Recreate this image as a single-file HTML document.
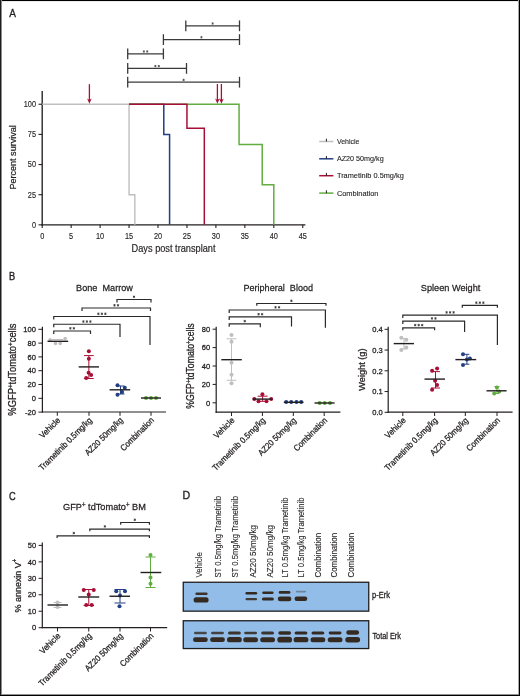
<!DOCTYPE html>
<html><head><meta charset="utf-8"><style>
html,body{margin:0;padding:0;background:#fff;}
body{width:520px;height:696px;overflow:hidden;position:relative;}
svg{position:absolute;left:0;top:0;filter:saturate(1.0001);}
text{font-family:"Liberation Sans",sans-serif;}
</style></head><body>
<svg width="520" height="696" viewBox="0 0 520 696">
<defs><filter id="bl" x="-20%" y="-60%" width="140%" height="220%"><feGaussianBlur stdDeviation="0.55"/></filter></defs>
<text x="0" y="0" font-size="11.2" fill="#231f20" stroke="#231f20" stroke-width="0.3" transform="translate(9.20,17.10) scale(0.8969,1)">A</text>
<line x1="42.20" y1="90.90" x2="42.20" y2="225.50" stroke="#231f20" stroke-width="1.35"/>
<line x1="41.60" y1="224.85" x2="305.40" y2="224.85" stroke="#231f20" stroke-width="1.3"/>
<line x1="38.50" y1="224.85" x2="42.20" y2="224.85" stroke="#231f20" stroke-width="1.1"/>
<text x="0" y="0" font-size="9.2" fill="#231f20" stroke="#231f20" stroke-width="0.15" text-anchor="end" transform="translate(36.00,227.70) scale(0.8000,1)">0</text>
<line x1="38.50" y1="194.70" x2="42.20" y2="194.70" stroke="#231f20" stroke-width="1.1"/>
<text x="0" y="0" font-size="9.2" fill="#231f20" stroke="#231f20" stroke-width="0.15" text-anchor="end" transform="translate(36.00,197.55) scale(0.8000,1)">25</text>
<line x1="38.50" y1="164.55" x2="42.20" y2="164.55" stroke="#231f20" stroke-width="1.1"/>
<text x="0" y="0" font-size="9.2" fill="#231f20" stroke="#231f20" stroke-width="0.15" text-anchor="end" transform="translate(36.00,167.40) scale(0.8000,1)">50</text>
<line x1="38.50" y1="134.40" x2="42.20" y2="134.40" stroke="#231f20" stroke-width="1.1"/>
<text x="0" y="0" font-size="9.2" fill="#231f20" stroke="#231f20" stroke-width="0.15" text-anchor="end" transform="translate(36.00,137.25) scale(0.8000,1)">75</text>
<line x1="38.50" y1="104.25" x2="42.20" y2="104.25" stroke="#231f20" stroke-width="1.1"/>
<text x="0" y="0" font-size="9.2" fill="#231f20" stroke="#231f20" stroke-width="0.15" text-anchor="end" transform="translate(36.00,107.10) scale(0.8000,1)">100</text>
<line x1="42.20" y1="224.85" x2="42.20" y2="227.90" stroke="#231f20" stroke-width="1.1"/>
<text x="0" y="0" font-size="9.2" fill="#231f20" stroke="#231f20" stroke-width="0.15" text-anchor="middle" transform="translate(42.20,238.70) scale(0.8000,1)">0</text>
<line x1="71.15" y1="224.85" x2="71.15" y2="227.90" stroke="#231f20" stroke-width="1.1"/>
<text x="0" y="0" font-size="9.2" fill="#231f20" stroke="#231f20" stroke-width="0.15" text-anchor="middle" transform="translate(71.15,238.70) scale(0.8000,1)">5</text>
<line x1="100.10" y1="224.85" x2="100.10" y2="227.90" stroke="#231f20" stroke-width="1.1"/>
<text x="0" y="0" font-size="9.2" fill="#231f20" stroke="#231f20" stroke-width="0.15" text-anchor="middle" transform="translate(100.10,238.70) scale(0.8000,1)">10</text>
<line x1="129.05" y1="224.85" x2="129.05" y2="227.90" stroke="#231f20" stroke-width="1.1"/>
<text x="0" y="0" font-size="9.2" fill="#231f20" stroke="#231f20" stroke-width="0.15" text-anchor="middle" transform="translate(129.05,238.70) scale(0.8000,1)">15</text>
<line x1="158.00" y1="224.85" x2="158.00" y2="227.90" stroke="#231f20" stroke-width="1.1"/>
<text x="0" y="0" font-size="9.2" fill="#231f20" stroke="#231f20" stroke-width="0.15" text-anchor="middle" transform="translate(158.00,238.70) scale(0.8000,1)">20</text>
<line x1="186.95" y1="224.85" x2="186.95" y2="227.90" stroke="#231f20" stroke-width="1.1"/>
<text x="0" y="0" font-size="9.2" fill="#231f20" stroke="#231f20" stroke-width="0.15" text-anchor="middle" transform="translate(186.95,238.70) scale(0.8000,1)">25</text>
<line x1="215.90" y1="224.85" x2="215.90" y2="227.90" stroke="#231f20" stroke-width="1.1"/>
<text x="0" y="0" font-size="9.2" fill="#231f20" stroke="#231f20" stroke-width="0.15" text-anchor="middle" transform="translate(215.90,238.70) scale(0.8000,1)">30</text>
<line x1="244.85" y1="224.85" x2="244.85" y2="227.90" stroke="#231f20" stroke-width="1.1"/>
<text x="0" y="0" font-size="9.2" fill="#231f20" stroke="#231f20" stroke-width="0.15" text-anchor="middle" transform="translate(244.85,238.70) scale(0.8000,1)">35</text>
<line x1="273.80" y1="224.85" x2="273.80" y2="227.90" stroke="#231f20" stroke-width="1.1"/>
<text x="0" y="0" font-size="9.2" fill="#231f20" stroke="#231f20" stroke-width="0.15" text-anchor="middle" transform="translate(273.80,238.70) scale(0.8000,1)">40</text>
<line x1="302.75" y1="224.85" x2="302.75" y2="227.90" stroke="#231f20" stroke-width="1.1"/>
<text x="0" y="0" font-size="9.2" fill="#231f20" stroke="#231f20" stroke-width="0.15" text-anchor="middle" transform="translate(302.75,238.70) scale(0.8000,1)">45</text>
<text x="0" y="0" font-size="10.1" fill="#231f20" stroke="#231f20" stroke-width="0.18" transform="translate(131.60,252.10) scale(0.9124,1)">Days post transplant</text>
<text x="0" y="0" font-size="9.3" fill="#231f20" stroke="#231f20" stroke-width="0.22" text-anchor="middle" transform="translate(15.50,157.40) rotate(-90) scale(0.9719,1)">Percent survival</text>
<path d="M42.2,104.25 H129.05 V194.70 H134.84 V224.85" stroke="#bfbfc2" stroke-width="1.4" fill="none" />
<path d="M129.05,104.25 H163.79 V134.40 H169.58 V224.85" stroke="#213f82" stroke-width="1.5" fill="none" />
<path d="M129.05,104.25 H239.06 V144.45 H262.22 V184.65 H273.80 V224.85" stroke="#62ad40" stroke-width="1.5" fill="none" />
<path d="M129.05,104.25 H186.95 V128.37 H204.32 V224.85" stroke="#a80f36" stroke-width="1.5" fill="none" />
<line x1="185.80" y1="25.80" x2="239.50" y2="25.80" stroke="#3a3a3a" stroke-width="1.3"/>
<line x1="185.80" y1="20.40" x2="185.80" y2="31.20" stroke="#3a3a3a" stroke-width="1.3"/>
<line x1="239.50" y1="20.40" x2="239.50" y2="31.20" stroke="#3a3a3a" stroke-width="1.3"/>
<path d="M212.65,22.35V24.65M211.65,22.93L213.65,24.07M211.65,24.07L213.65,22.93" stroke="#444" stroke-width="0.75" fill="none"/>
<line x1="163.40" y1="39.60" x2="239.50" y2="39.60" stroke="#3a3a3a" stroke-width="1.3"/>
<line x1="163.40" y1="34.20" x2="163.40" y2="45.00" stroke="#3a3a3a" stroke-width="1.3"/>
<line x1="239.50" y1="34.20" x2="239.50" y2="45.00" stroke="#3a3a3a" stroke-width="1.3"/>
<path d="M201.45,36.15V38.45M200.45,36.73L202.45,37.88M200.45,37.88L202.45,36.73" stroke="#444" stroke-width="0.75" fill="none"/>
<line x1="127.70" y1="53.80" x2="163.40" y2="53.80" stroke="#3a3a3a" stroke-width="1.3"/>
<line x1="127.70" y1="48.40" x2="127.70" y2="59.20" stroke="#3a3a3a" stroke-width="1.3"/>
<line x1="163.40" y1="48.40" x2="163.40" y2="59.20" stroke="#3a3a3a" stroke-width="1.3"/>
<path d="M143.85,50.35V52.65M142.85,50.92L144.85,52.08M142.85,52.08L144.85,50.92M147.25,50.35V52.65M146.25,50.92L148.25,52.08M146.25,52.08L148.25,50.92" stroke="#444" stroke-width="0.75" fill="none"/>
<line x1="127.70" y1="68.40" x2="186.50" y2="68.40" stroke="#3a3a3a" stroke-width="1.3"/>
<line x1="127.70" y1="63.00" x2="127.70" y2="73.80" stroke="#3a3a3a" stroke-width="1.3"/>
<line x1="186.50" y1="63.00" x2="186.50" y2="73.80" stroke="#3a3a3a" stroke-width="1.3"/>
<path d="M155.40,64.95V67.25M154.40,65.53L156.40,66.68M154.40,66.68L156.40,65.53M158.80,64.95V67.25M157.80,65.53L159.80,66.68M157.80,66.68L159.80,65.53" stroke="#444" stroke-width="0.75" fill="none"/>
<line x1="127.70" y1="82.20" x2="239.50" y2="82.20" stroke="#3a3a3a" stroke-width="1.3"/>
<line x1="127.70" y1="76.80" x2="127.70" y2="87.60" stroke="#3a3a3a" stroke-width="1.3"/>
<line x1="239.50" y1="76.80" x2="239.50" y2="87.60" stroke="#3a3a3a" stroke-width="1.3"/>
<path d="M183.60,78.75V81.05M182.60,79.33L184.60,80.48M182.60,80.48L184.60,79.33" stroke="#444" stroke-width="0.75" fill="none"/>
<line x1="89.40" y1="84.20" x2="89.40" y2="100.80" stroke="#a80f36" stroke-width="1.3"/>
<path d="M87.10,98.40 L89.40,103.80 L91.70,98.40 L89.40,100.00 Z" stroke="none" stroke-width="0" fill="#a80f36" />
<line x1="217.40" y1="84.00" x2="217.40" y2="100.80" stroke="#a80f36" stroke-width="1.3"/>
<path d="M215.10,98.40 L217.40,103.80 L219.70,98.40 L217.40,100.00 Z" stroke="none" stroke-width="0" fill="#a80f36" />
<line x1="221.40" y1="84.00" x2="221.40" y2="100.80" stroke="#a80f36" stroke-width="1.3"/>
<path d="M219.10,98.40 L221.40,103.80 L223.70,98.40 L221.40,100.00 Z" stroke="none" stroke-width="0" fill="#a80f36" />
<line x1="319.20" y1="141.50" x2="333.40" y2="141.50" stroke="#bfbfc2" stroke-width="1.5"/>
<line x1="326.40" y1="138.70" x2="326.40" y2="141.50" stroke="#231f20" stroke-width="1.0"/>
<text x="0" y="0" font-size="7.7" fill="#231f20" stroke="#231f20" stroke-width="0.12" transform="translate(336.90,143.90) scale(0.9102,1)">Vehicle</text>
<line x1="319.20" y1="158.80" x2="333.40" y2="158.80" stroke="#213f82" stroke-width="1.5"/>
<line x1="326.40" y1="156.00" x2="326.40" y2="158.80" stroke="#231f20" stroke-width="1.0"/>
<text x="0" y="0" font-size="7.7" fill="#231f20" stroke="#231f20" stroke-width="0.12" transform="translate(336.90,161.20) scale(0.9366,1)">AZ20 50mg/kg</text>
<line x1="319.20" y1="175.70" x2="333.40" y2="175.70" stroke="#a80f36" stroke-width="1.5"/>
<line x1="326.40" y1="172.90" x2="326.40" y2="175.70" stroke="#231f20" stroke-width="1.0"/>
<text x="0" y="0" font-size="7.7" fill="#231f20" stroke="#231f20" stroke-width="0.12" transform="translate(336.90,178.10) scale(0.9585,1)">Trametinib 0.5mg/kg</text>
<line x1="319.20" y1="193.10" x2="333.40" y2="193.10" stroke="#62ad40" stroke-width="1.5"/>
<line x1="326.40" y1="190.30" x2="326.40" y2="193.10" stroke="#231f20" stroke-width="1.0"/>
<text x="0" y="0" font-size="7.7" fill="#231f20" stroke="#231f20" stroke-width="0.12" transform="translate(336.90,195.50) scale(0.9623,1)">Combination</text>
<text x="0" y="0" font-size="11.2" fill="#231f20" stroke="#231f20" stroke-width="0.4" transform="translate(8.90,280.40) scale(0.8299,1)">B</text>
<line x1="42.40" y1="326.80" x2="42.40" y2="412.60" stroke="#231f20" stroke-width="1.2"/>
<line x1="41.80" y1="412.00" x2="166.00" y2="412.00" stroke="#231f20" stroke-width="1.2"/>
<line x1="38.40" y1="329.30" x2="42.40" y2="329.30" stroke="#231f20" stroke-width="1.0"/>
<text x="0" y="0" font-size="7.8" fill="#231f20" stroke="#231f20" stroke-width="0.28" text-anchor="end" transform="translate(35.90,332.00) scale(0.9700,1)">100</text>
<line x1="38.40" y1="343.10" x2="42.40" y2="343.10" stroke="#231f20" stroke-width="1.0"/>
<text x="0" y="0" font-size="7.8" fill="#231f20" stroke="#231f20" stroke-width="0.28" text-anchor="end" transform="translate(35.90,345.80) scale(0.9700,1)">80</text>
<line x1="38.40" y1="356.90" x2="42.40" y2="356.90" stroke="#231f20" stroke-width="1.0"/>
<text x="0" y="0" font-size="7.8" fill="#231f20" stroke="#231f20" stroke-width="0.28" text-anchor="end" transform="translate(35.90,359.60) scale(0.9700,1)">60</text>
<line x1="38.40" y1="370.70" x2="42.40" y2="370.70" stroke="#231f20" stroke-width="1.0"/>
<text x="0" y="0" font-size="7.8" fill="#231f20" stroke="#231f20" stroke-width="0.28" text-anchor="end" transform="translate(35.90,373.40) scale(0.9700,1)">40</text>
<line x1="38.40" y1="384.50" x2="42.40" y2="384.50" stroke="#231f20" stroke-width="1.0"/>
<text x="0" y="0" font-size="7.8" fill="#231f20" stroke="#231f20" stroke-width="0.28" text-anchor="end" transform="translate(35.90,387.20) scale(0.9700,1)">20</text>
<line x1="38.40" y1="398.30" x2="42.40" y2="398.30" stroke="#231f20" stroke-width="1.0"/>
<text x="0" y="0" font-size="7.8" fill="#231f20" stroke="#231f20" stroke-width="0.28" text-anchor="end" transform="translate(35.90,401.00) scale(0.9700,1)">0</text>
<line x1="38.40" y1="412.10" x2="42.40" y2="412.10" stroke="#231f20" stroke-width="1.0"/>
<text x="0" y="0" font-size="7.8" fill="#231f20" stroke="#231f20" stroke-width="0.28" text-anchor="end" transform="translate(35.90,414.80) scale(0.9700,1)">-20</text>
<line x1="57.30" y1="412.00" x2="57.30" y2="415.80" stroke="#231f20" stroke-width="1.0"/>
<line x1="89.00" y1="412.00" x2="89.00" y2="415.80" stroke="#231f20" stroke-width="1.0"/>
<line x1="120.00" y1="412.00" x2="120.00" y2="415.80" stroke="#231f20" stroke-width="1.0"/>
<line x1="151.00" y1="412.00" x2="151.00" y2="415.80" stroke="#231f20" stroke-width="1.0"/>
<text x="0" y="0" font-size="8.6" fill="#231f20" stroke="#231f20" stroke-width="0.28" text-anchor="end" transform="translate(60.80,420.80) rotate(-45) scale(0.9195,1)">Vehicle</text>
<text x="0" y="0" font-size="8.6" fill="#231f20" stroke="#231f20" stroke-width="0.28" text-anchor="end" transform="translate(92.50,420.80) rotate(-45) scale(0.9095,1)">Trametinib 0.5mg/kg</text>
<text x="0" y="0" font-size="8.6" fill="#231f20" stroke="#231f20" stroke-width="0.28" text-anchor="end" transform="translate(123.50,420.80) rotate(-45) scale(0.8940,1)">AZ20 50mg/kg</text>
<text x="0" y="0" font-size="8.6" fill="#231f20" stroke="#231f20" stroke-width="0.28" text-anchor="end" transform="translate(154.50,420.80) rotate(-45) scale(0.9009,1)">Combination</text>
<text x="0" y="0" font-size="9.9" fill="#231f20" stroke="#231f20" stroke-width="0.26" transform="translate(76.10,290.80) scale(0.9233,1)">Bone  Marrow</text>
<text x="0" y="0" font-size="10.0" fill="#231f20" stroke="#231f20" stroke-width="0.28" text-anchor="middle" transform="translate(16.10,369.60) rotate(-90) scale(0.9370,1)">%GFP<tspan font-size="6.60" dy="-3.60">+</tspan><tspan font-size="10.0" dy="3.60">tdTomato</tspan><tspan font-size="6.60" dy="-3.60">+</tspan><tspan font-size="10.0" dy="3.60">cells</tspan></text>
<path d="M117.00,302.50 V299.50 H151.00 V302.50" stroke="#2a2a2a" stroke-width="1.2" fill="none" />
<path d="M134.00,295.55V298.05M132.91,296.18L135.09,297.43M132.91,297.43L135.09,296.18" stroke="#333" stroke-width="0.8" fill="none"/>
<path d="M82.00,311.00 V308.00 H150.50 V311.00" stroke="#2a2a2a" stroke-width="1.2" fill="none" />
<path d="M114.50,304.05V306.55M113.41,304.68L115.59,305.93M113.41,305.93L115.59,304.68M118.00,304.05V306.55M116.91,304.68L119.09,305.93M116.91,305.93L119.09,304.68" stroke="#333" stroke-width="0.8" fill="none"/>
<path d="M53.75,319.50 V316.50 H150.00 V345.00" stroke="#2a2a2a" stroke-width="1.2" fill="none" />
<path d="M98.38,312.55V315.05M97.29,313.18L99.46,314.43M97.29,314.43L99.46,313.18M101.88,312.55V315.05M100.79,313.18L102.96,314.43M100.79,314.43L102.96,313.18M105.38,312.55V315.05M104.29,313.18L106.46,314.43M104.29,314.43L106.46,313.18" stroke="#333" stroke-width="0.8" fill="none"/>
<path d="M53.75,327.25 V324.25 H120.00 V337.00" stroke="#2a2a2a" stroke-width="1.2" fill="none" />
<path d="M83.38,320.30V322.80M82.29,320.93L84.46,322.18M82.29,322.18L84.46,320.93M86.88,320.30V322.80M85.79,320.93L87.96,322.18M85.79,322.18L87.96,320.93M90.38,320.30V322.80M89.29,320.93L91.46,322.18M89.29,322.18L91.46,320.93" stroke="#333" stroke-width="0.8" fill="none"/>
<path d="M53.75,334.00 V331.00 H90.50 V334.00" stroke="#2a2a2a" stroke-width="1.2" fill="none" />
<path d="M70.38,327.05V329.55M69.29,327.68L71.46,328.93M69.29,328.93L71.46,327.68M73.88,327.05V329.55M72.79,327.68L74.96,328.93M72.79,328.93L74.96,327.68" stroke="#333" stroke-width="0.8" fill="none"/>
<line x1="51.50" y1="339.50" x2="63.50" y2="339.50" stroke="#bfbfc2" stroke-width="1.0"/>
<circle cx="50.10" cy="339.80" r="1.8" fill="#bfbfc2"/>
<circle cx="55.50" cy="343.40" r="1.8" fill="#bfbfc2"/>
<circle cx="60.20" cy="343.40" r="1.8" fill="#bfbfc2"/>
<circle cx="65.20" cy="338.60" r="1.8" fill="#bfbfc2"/>
<line x1="47.50" y1="341.30" x2="68.20" y2="341.30" stroke="#231f20" stroke-width="1.4"/>
<line x1="88.85" y1="355.60" x2="88.85" y2="378.50" stroke="#a80f36" stroke-width="1.0"/>
<line x1="83.95" y1="355.60" x2="93.75" y2="355.60" stroke="#a80f36" stroke-width="1.0"/>
<line x1="83.95" y1="378.50" x2="93.75" y2="378.50" stroke="#a80f36" stroke-width="1.0"/>
<circle cx="88.85" cy="351.30" r="2.0" fill="#a80f36"/>
<circle cx="88.85" cy="358.80" r="2.0" fill="#a80f36"/>
<circle cx="88.60" cy="372.70" r="2.0" fill="#a80f36"/>
<circle cx="91.15" cy="375.00" r="2.0" fill="#a80f36"/>
<circle cx="86.20" cy="377.90" r="2.0" fill="#a80f36"/>
<line x1="78.70" y1="366.90" x2="99.00" y2="366.90" stroke="#231f20" stroke-width="1.4"/>
<line x1="120.50" y1="386.00" x2="120.50" y2="394.00" stroke="#213f82" stroke-width="1.0"/>
<line x1="116.50" y1="386.00" x2="124.50" y2="386.00" stroke="#213f82" stroke-width="1.0"/>
<line x1="116.50" y1="394.00" x2="124.50" y2="394.00" stroke="#213f82" stroke-width="1.0"/>
<circle cx="117.50" cy="385.20" r="2.0" fill="#213f82"/>
<circle cx="124.80" cy="387.70" r="2.0" fill="#213f82"/>
<circle cx="122.10" cy="392.10" r="2.0" fill="#213f82"/>
<circle cx="117.50" cy="394.80" r="2.0" fill="#213f82"/>
<line x1="109.60" y1="389.80" x2="130.20" y2="389.80" stroke="#231f20" stroke-width="1.4"/>
<circle cx="146.00" cy="398.00" r="2.0" fill="#62ad40"/>
<circle cx="151.00" cy="398.00" r="2.0" fill="#62ad40"/>
<circle cx="156.00" cy="398.00" r="2.0" fill="#62ad40"/>
<line x1="141.00" y1="398.00" x2="161.00" y2="398.00" stroke="#231f20" stroke-width="1.4"/>
<line x1="216.20" y1="326.70" x2="216.20" y2="412.90" stroke="#231f20" stroke-width="1.2"/>
<line x1="215.60" y1="412.20" x2="340.40" y2="412.20" stroke="#231f20" stroke-width="1.2"/>
<line x1="212.60" y1="329.20" x2="216.20" y2="329.20" stroke="#231f20" stroke-width="1.0"/>
<text x="0" y="0" font-size="7.8" fill="#231f20" stroke="#231f20" stroke-width="0.28" text-anchor="end" transform="translate(210.20,331.90) scale(0.9700,1)">80</text>
<line x1="212.60" y1="347.60" x2="216.20" y2="347.60" stroke="#231f20" stroke-width="1.0"/>
<text x="0" y="0" font-size="7.8" fill="#231f20" stroke="#231f20" stroke-width="0.28" text-anchor="end" transform="translate(210.20,350.30) scale(0.9700,1)">60</text>
<line x1="212.60" y1="366.00" x2="216.20" y2="366.00" stroke="#231f20" stroke-width="1.0"/>
<text x="0" y="0" font-size="7.8" fill="#231f20" stroke="#231f20" stroke-width="0.28" text-anchor="end" transform="translate(210.20,368.70) scale(0.9700,1)">40</text>
<line x1="212.60" y1="384.40" x2="216.20" y2="384.40" stroke="#231f20" stroke-width="1.0"/>
<text x="0" y="0" font-size="7.8" fill="#231f20" stroke="#231f20" stroke-width="0.28" text-anchor="end" transform="translate(210.20,387.10) scale(0.9700,1)">20</text>
<line x1="212.60" y1="402.80" x2="216.20" y2="402.80" stroke="#231f20" stroke-width="1.0"/>
<text x="0" y="0" font-size="7.8" fill="#231f20" stroke="#231f20" stroke-width="0.28" text-anchor="end" transform="translate(210.20,405.50) scale(0.9700,1)">0</text>
<line x1="231.50" y1="412.20" x2="231.50" y2="416.00" stroke="#231f20" stroke-width="1.0"/>
<line x1="262.40" y1="412.20" x2="262.40" y2="416.00" stroke="#231f20" stroke-width="1.0"/>
<line x1="293.30" y1="412.20" x2="293.30" y2="416.00" stroke="#231f20" stroke-width="1.0"/>
<line x1="324.20" y1="412.20" x2="324.20" y2="416.00" stroke="#231f20" stroke-width="1.0"/>
<text x="0" y="0" font-size="8.6" fill="#231f20" stroke="#231f20" stroke-width="0.28" text-anchor="end" transform="translate(235.00,421.00) rotate(-45) scale(0.9195,1)">Vehicle</text>
<text x="0" y="0" font-size="8.6" fill="#231f20" stroke="#231f20" stroke-width="0.28" text-anchor="end" transform="translate(265.90,421.00) rotate(-45) scale(0.9095,1)">Trametinib 0.5mg/kg</text>
<text x="0" y="0" font-size="8.6" fill="#231f20" stroke="#231f20" stroke-width="0.28" text-anchor="end" transform="translate(296.80,421.00) rotate(-45) scale(0.8940,1)">AZ20 50mg/kg</text>
<text x="0" y="0" font-size="8.6" fill="#231f20" stroke="#231f20" stroke-width="0.28" text-anchor="end" transform="translate(327.70,421.00) rotate(-45) scale(0.9009,1)">Combination</text>
<text x="0" y="0" font-size="9.9" fill="#231f20" stroke="#231f20" stroke-width="0.26" transform="translate(243.40,290.60) scale(0.9177,1)">Peripheral  Blood</text>
<text x="0" y="0" font-size="10.0" fill="#231f20" stroke="#231f20" stroke-width="0.28" text-anchor="middle" transform="translate(194.30,366.00) rotate(-90) scale(0.8698,1)">%GFP<tspan font-size="6.60" dy="-3.60">+</tspan><tspan font-size="10.0" dy="3.60">tdTomato</tspan><tspan font-size="6.60" dy="-3.60">+</tspan><tspan font-size="10.0" dy="3.60">cells</tspan></text>
<path d="M256.80,305.80 V303.50 H326.00 V305.80" stroke="#2a2a2a" stroke-width="1.2" fill="none" />
<path d="M291.40,299.55V302.05M290.31,300.18L292.49,301.43M290.31,301.43L292.49,300.18" stroke="#333" stroke-width="0.8" fill="none"/>
<path d="M229.20,313.00 V310.00 H325.40 V327.80" stroke="#2a2a2a" stroke-width="1.2" fill="none" />
<path d="M275.55,306.05V308.55M274.46,306.68L276.64,307.93M274.46,307.93L276.64,306.68M279.05,306.05V308.55M277.96,306.68L280.14,307.93M277.96,307.93L280.14,306.68" stroke="#333" stroke-width="0.8" fill="none"/>
<path d="M229.20,319.90 V316.90 H291.50 V326.60" stroke="#2a2a2a" stroke-width="1.2" fill="none" />
<path d="M258.60,312.95V315.45M257.51,313.57L259.69,314.82M257.51,314.82L259.69,313.57M262.10,312.95V315.45M261.01,313.57L263.19,314.82M261.01,314.82L263.19,313.57" stroke="#333" stroke-width="0.8" fill="none"/>
<path d="M229.20,326.80 V323.80 H260.30 V327.30" stroke="#2a2a2a" stroke-width="1.2" fill="none" />
<path d="M244.75,319.85V322.35M243.66,320.48L245.84,321.73M243.66,321.73L245.84,320.48" stroke="#333" stroke-width="0.8" fill="none"/>
<line x1="231.50" y1="338.80" x2="231.50" y2="380.30" stroke="#bfbfc2" stroke-width="1.0"/>
<line x1="226.60" y1="338.80" x2="236.40" y2="338.80" stroke="#bfbfc2" stroke-width="1.0"/>
<line x1="226.60" y1="380.30" x2="236.40" y2="380.30" stroke="#bfbfc2" stroke-width="1.0"/>
<circle cx="231.50" cy="335.00" r="2.0" fill="#bfbfc2"/>
<circle cx="231.50" cy="341.80" r="2.0" fill="#bfbfc2"/>
<circle cx="231.50" cy="362.70" r="2.0" fill="#bfbfc2"/>
<circle cx="231.50" cy="374.80" r="2.0" fill="#bfbfc2"/>
<circle cx="231.50" cy="383.30" r="2.0" fill="#bfbfc2"/>
<line x1="221.30" y1="359.70" x2="241.80" y2="359.70" stroke="#231f20" stroke-width="1.4"/>
<line x1="262.60" y1="396.20" x2="262.60" y2="401.30" stroke="#a80f36" stroke-width="1.0"/>
<line x1="257.60" y1="396.20" x2="267.60" y2="396.20" stroke="#a80f36" stroke-width="1.0"/>
<line x1="257.60" y1="401.30" x2="267.60" y2="401.30" stroke="#a80f36" stroke-width="1.0"/>
<circle cx="262.40" cy="394.20" r="2.0" fill="#a80f36"/>
<circle cx="254.30" cy="399.10" r="2.0" fill="#a80f36"/>
<circle cx="258.50" cy="401.20" r="2.0" fill="#a80f36"/>
<circle cx="266.50" cy="401.20" r="2.0" fill="#a80f36"/>
<circle cx="271.20" cy="399.10" r="2.0" fill="#a80f36"/>
<line x1="252.70" y1="399.10" x2="272.30" y2="399.10" stroke="#231f20" stroke-width="1.4"/>
<circle cx="286.20" cy="402.00" r="2.0" fill="#213f82"/>
<circle cx="291.20" cy="402.00" r="2.0" fill="#213f82"/>
<circle cx="296.50" cy="402.00" r="2.0" fill="#213f82"/>
<circle cx="301.20" cy="402.00" r="2.0" fill="#213f82"/>
<line x1="283.80" y1="402.30" x2="303.50" y2="402.30" stroke="#231f20" stroke-width="1.4"/>
<circle cx="319.60" cy="403.00" r="2.0" fill="#62ad40"/>
<circle cx="324.70" cy="403.00" r="2.0" fill="#62ad40"/>
<circle cx="330.00" cy="403.00" r="2.0" fill="#62ad40"/>
<line x1="314.50" y1="403.00" x2="334.60" y2="403.00" stroke="#231f20" stroke-width="1.4"/>
<line x1="388.20" y1="326.70" x2="388.20" y2="412.90" stroke="#231f20" stroke-width="1.2"/>
<line x1="387.60" y1="412.20" x2="512.60" y2="412.20" stroke="#231f20" stroke-width="1.2"/>
<line x1="384.60" y1="329.30" x2="388.20" y2="329.30" stroke="#231f20" stroke-width="1.0"/>
<text x="0" y="0" font-size="7.8" fill="#231f20" stroke="#231f20" stroke-width="0.28" text-anchor="end" transform="translate(382.80,332.00) scale(0.9700,1)">0.4</text>
<line x1="384.60" y1="350.05" x2="388.20" y2="350.05" stroke="#231f20" stroke-width="1.0"/>
<text x="0" y="0" font-size="7.8" fill="#231f20" stroke="#231f20" stroke-width="0.28" text-anchor="end" transform="translate(382.80,352.75) scale(0.9700,1)">0.3</text>
<line x1="384.60" y1="370.80" x2="388.20" y2="370.80" stroke="#231f20" stroke-width="1.0"/>
<text x="0" y="0" font-size="7.8" fill="#231f20" stroke="#231f20" stroke-width="0.28" text-anchor="end" transform="translate(382.80,373.50) scale(0.9700,1)">0.2</text>
<line x1="384.60" y1="391.55" x2="388.20" y2="391.55" stroke="#231f20" stroke-width="1.0"/>
<text x="0" y="0" font-size="7.8" fill="#231f20" stroke="#231f20" stroke-width="0.28" text-anchor="end" transform="translate(382.80,394.25) scale(0.9700,1)">0.1</text>
<line x1="384.60" y1="412.30" x2="388.20" y2="412.30" stroke="#231f20" stroke-width="1.0"/>
<text x="0" y="0" font-size="7.8" fill="#231f20" stroke="#231f20" stroke-width="0.28" text-anchor="end" transform="translate(382.80,415.00) scale(0.9700,1)">0.0</text>
<line x1="402.80" y1="412.20" x2="402.80" y2="416.00" stroke="#231f20" stroke-width="1.0"/>
<line x1="434.60" y1="412.20" x2="434.60" y2="416.00" stroke="#231f20" stroke-width="1.0"/>
<line x1="465.30" y1="412.20" x2="465.30" y2="416.00" stroke="#231f20" stroke-width="1.0"/>
<line x1="497.00" y1="412.20" x2="497.00" y2="416.00" stroke="#231f20" stroke-width="1.0"/>
<text x="0" y="0" font-size="8.6" fill="#231f20" stroke="#231f20" stroke-width="0.28" text-anchor="end" transform="translate(406.30,421.00) rotate(-45) scale(0.9195,1)">Vehicle</text>
<text x="0" y="0" font-size="8.6" fill="#231f20" stroke="#231f20" stroke-width="0.28" text-anchor="end" transform="translate(438.10,421.00) rotate(-45) scale(0.9095,1)">Trametinib 0.5mg/kg</text>
<text x="0" y="0" font-size="8.6" fill="#231f20" stroke="#231f20" stroke-width="0.28" text-anchor="end" transform="translate(468.80,421.00) rotate(-45) scale(0.8940,1)">AZ20 50mg/kg</text>
<text x="0" y="0" font-size="8.6" fill="#231f20" stroke="#231f20" stroke-width="0.28" text-anchor="end" transform="translate(500.50,421.00) rotate(-45) scale(0.9009,1)">Combination</text>
<text x="0" y="0" font-size="9.9" fill="#231f20" stroke="#231f20" stroke-width="0.26" transform="translate(420.80,290.60) scale(0.9282,1)">Spleen Weight</text>
<text x="0" y="0" font-size="9.0" fill="#231f20" stroke="#231f20" stroke-width="0.28" text-anchor="middle" transform="translate(365.00,369.60) rotate(-90) scale(1.0206,1)">Weight (g)</text>
<path d="M462.30,307.70 V305.40 H497.40 V307.70" stroke="#2a2a2a" stroke-width="1.2" fill="none" />
<path d="M476.35,301.45V303.95M475.26,302.07L477.44,303.32M475.26,303.32L477.44,302.07M479.85,301.45V303.95M478.76,302.07L480.94,303.32M478.76,303.32L480.94,302.07M483.35,301.45V303.95M482.26,302.07L484.44,303.32M482.26,303.32L484.44,302.07" stroke="#333" stroke-width="0.8" fill="none"/>
<path d="M402.80,318.10 V315.10 H497.40 V345.00" stroke="#2a2a2a" stroke-width="1.2" fill="none" />
<path d="M446.60,311.15V313.65M445.51,311.78L447.69,313.03M445.51,313.03L447.69,311.78M450.10,311.15V313.65M449.01,311.78L451.19,313.03M449.01,313.03L451.19,311.78M453.60,311.15V313.65M452.51,311.78L454.69,313.03M452.51,313.03L454.69,311.78" stroke="#333" stroke-width="0.8" fill="none"/>
<path d="M402.80,324.10 V321.10 H464.60 V332.00" stroke="#2a2a2a" stroke-width="1.2" fill="none" />
<path d="M431.95,317.15V319.65M430.86,317.78L433.04,319.03M430.86,319.03L433.04,317.78M435.45,317.15V319.65M434.36,317.78L436.54,319.03M434.36,319.03L436.54,317.78" stroke="#333" stroke-width="0.8" fill="none"/>
<path d="M402.80,330.30 V327.80 H434.60 V330.30" stroke="#2a2a2a" stroke-width="1.2" fill="none" />
<path d="M415.20,323.85V326.35M414.11,324.48L416.29,325.73M414.11,325.73L416.29,324.48M418.70,323.85V326.35M417.61,324.48L419.79,325.73M417.61,325.73L419.79,324.48M422.20,323.85V326.35M421.11,324.48L423.29,325.73M421.11,325.73L423.29,324.48" stroke="#333" stroke-width="0.8" fill="none"/>
<line x1="404.00" y1="338.50" x2="404.00" y2="349.00" stroke="#bfbfc2" stroke-width="1.0"/>
<line x1="401.50" y1="338.50" x2="406.50" y2="338.50" stroke="#bfbfc2" stroke-width="1.0"/>
<line x1="401.50" y1="349.00" x2="406.50" y2="349.00" stroke="#bfbfc2" stroke-width="1.0"/>
<circle cx="401.30" cy="337.80" r="2.0" fill="#bfbfc2"/>
<circle cx="406.30" cy="339.80" r="2.0" fill="#bfbfc2"/>
<circle cx="406.30" cy="347.40" r="2.0" fill="#bfbfc2"/>
<circle cx="401.30" cy="349.90" r="2.0" fill="#bfbfc2"/>
<line x1="393.70" y1="343.60" x2="414.00" y2="343.60" stroke="#231f20" stroke-width="1.4"/>
<line x1="435.50" y1="371.60" x2="435.50" y2="388.00" stroke="#a80f36" stroke-width="1.0"/>
<line x1="431.00" y1="371.60" x2="440.00" y2="371.60" stroke="#a80f36" stroke-width="1.0"/>
<line x1="431.00" y1="388.00" x2="440.00" y2="388.00" stroke="#a80f36" stroke-width="1.0"/>
<circle cx="432.10" cy="370.80" r="2.0" fill="#a80f36"/>
<circle cx="437.10" cy="368.60" r="2.0" fill="#a80f36"/>
<circle cx="435.10" cy="380.70" r="2.0" fill="#a80f36"/>
<circle cx="437.10" cy="385.10" r="2.0" fill="#a80f36"/>
<circle cx="432.10" cy="389.70" r="2.0" fill="#a80f36"/>
<line x1="424.50" y1="379.10" x2="445.00" y2="379.10" stroke="#231f20" stroke-width="1.4"/>
<line x1="466.90" y1="354.30" x2="466.90" y2="364.20" stroke="#213f82" stroke-width="1.0"/>
<line x1="464.40" y1="354.30" x2="469.40" y2="354.30" stroke="#213f82" stroke-width="1.0"/>
<line x1="464.40" y1="364.20" x2="469.40" y2="364.20" stroke="#213f82" stroke-width="1.0"/>
<circle cx="463.00" cy="354.30" r="2.0" fill="#213f82"/>
<circle cx="469.90" cy="358.50" r="2.0" fill="#213f82"/>
<circle cx="466.90" cy="359.60" r="2.0" fill="#213f82"/>
<circle cx="463.00" cy="364.90" r="2.0" fill="#213f82"/>
<line x1="455.40" y1="359.60" x2="476.20" y2="359.60" stroke="#231f20" stroke-width="1.4"/>
<line x1="496.90" y1="386.50" x2="496.90" y2="393.50" stroke="#62ad40" stroke-width="1.0"/>
<line x1="494.40" y1="386.50" x2="499.40" y2="386.50" stroke="#62ad40" stroke-width="1.0"/>
<line x1="494.40" y1="393.50" x2="499.40" y2="393.50" stroke="#62ad40" stroke-width="1.0"/>
<circle cx="496.90" cy="387.50" r="2.0" fill="#62ad40"/>
<circle cx="499.20" cy="391.50" r="2.0" fill="#62ad40"/>
<circle cx="494.20" cy="393.50" r="2.0" fill="#62ad40"/>
<line x1="486.50" y1="390.80" x2="506.60" y2="390.80" stroke="#231f20" stroke-width="1.4"/>
<text x="0" y="0" font-size="11.2" fill="#231f20" stroke="#231f20" stroke-width="0.35" transform="translate(9.00,499.70) scale(0.8284,1)">C</text>
<line x1="42.30" y1="542.40" x2="42.30" y2="628.30" stroke="#231f20" stroke-width="1.2"/>
<line x1="41.70" y1="627.70" x2="167.20" y2="627.70" stroke="#231f20" stroke-width="1.2"/>
<line x1="38.60" y1="545.40" x2="42.30" y2="545.40" stroke="#231f20" stroke-width="1.0"/>
<text x="0" y="0" font-size="7.8" fill="#231f20" stroke="#231f20" stroke-width="0.28" text-anchor="end" transform="translate(36.10,548.10) scale(0.9700,1)">50</text>
<line x1="38.60" y1="561.86" x2="42.30" y2="561.86" stroke="#231f20" stroke-width="1.0"/>
<text x="0" y="0" font-size="7.8" fill="#231f20" stroke="#231f20" stroke-width="0.28" text-anchor="end" transform="translate(36.10,564.56) scale(0.9700,1)">40</text>
<line x1="38.60" y1="578.32" x2="42.30" y2="578.32" stroke="#231f20" stroke-width="1.0"/>
<text x="0" y="0" font-size="7.8" fill="#231f20" stroke="#231f20" stroke-width="0.28" text-anchor="end" transform="translate(36.10,581.02) scale(0.9700,1)">30</text>
<line x1="38.60" y1="594.78" x2="42.30" y2="594.78" stroke="#231f20" stroke-width="1.0"/>
<text x="0" y="0" font-size="7.8" fill="#231f20" stroke="#231f20" stroke-width="0.28" text-anchor="end" transform="translate(36.10,597.48) scale(0.9700,1)">20</text>
<line x1="38.60" y1="611.24" x2="42.30" y2="611.24" stroke="#231f20" stroke-width="1.0"/>
<text x="0" y="0" font-size="7.8" fill="#231f20" stroke="#231f20" stroke-width="0.28" text-anchor="end" transform="translate(36.10,613.94) scale(0.9700,1)">10</text>
<line x1="38.60" y1="627.70" x2="42.30" y2="627.70" stroke="#231f20" stroke-width="1.0"/>
<text x="0" y="0" font-size="7.8" fill="#231f20" stroke="#231f20" stroke-width="0.28" text-anchor="end" transform="translate(36.10,630.40) scale(0.9700,1)">0</text>
<line x1="57.50" y1="627.70" x2="57.50" y2="631.50" stroke="#231f20" stroke-width="1.0"/>
<line x1="88.75" y1="627.70" x2="88.75" y2="631.50" stroke="#231f20" stroke-width="1.0"/>
<line x1="120.00" y1="627.70" x2="120.00" y2="631.50" stroke="#231f20" stroke-width="1.0"/>
<line x1="150.50" y1="627.70" x2="150.50" y2="631.50" stroke="#231f20" stroke-width="1.0"/>
<text x="0" y="0" font-size="8.6" fill="#231f20" stroke="#231f20" stroke-width="0.28" text-anchor="end" transform="translate(61.00,636.50) rotate(-45) scale(0.9195,1)">Vehicle</text>
<text x="0" y="0" font-size="8.6" fill="#231f20" stroke="#231f20" stroke-width="0.28" text-anchor="end" transform="translate(92.25,636.50) rotate(-45) scale(0.9095,1)">Trametinib 0.5mg/kg</text>
<text x="0" y="0" font-size="8.6" fill="#231f20" stroke="#231f20" stroke-width="0.28" text-anchor="end" transform="translate(123.50,636.50) rotate(-45) scale(0.8940,1)">AZ20 50mg/kg</text>
<text x="0" y="0" font-size="8.6" fill="#231f20" stroke="#231f20" stroke-width="0.28" text-anchor="end" transform="translate(154.00,636.50) rotate(-45) scale(0.9009,1)">Combination</text>
<text x="0" y="0" font-size="9.8" fill="#231f20" stroke="#231f20" stroke-width="0.26" transform="translate(63.10,510.40) scale(0.9381,1)">GFP<tspan font-size="6.47" dy="-3.53">+</tspan><tspan font-size="9.8" dy="3.53"> tdTomato</tspan><tspan font-size="6.47" dy="-3.53">+</tspan><tspan font-size="9.8" dy="3.53"> BM</tspan></text>
<text x="0" y="0" font-size="9.5" fill="#231f20" stroke="#231f20" stroke-width="0.28" text-anchor="middle" transform="translate(20.60,585.60) rotate(-90) scale(0.9421,1)">% annexin V<tspan font-size="6.27" dy="-3.42">+</tspan><tspan font-size="9.5" dy="3.42"></tspan></text>
<path d="M120.70,524.70 V522.50 H149.40 V524.70" stroke="#2a2a2a" stroke-width="1.2" fill="none" />
<path d="M134.80,518.55V521.05M133.71,519.17L135.89,520.42M133.71,520.42L135.89,519.17" stroke="#333" stroke-width="0.8" fill="none"/>
<path d="M89.80,531.30 V529.10 H149.40 V531.30" stroke="#2a2a2a" stroke-width="1.2" fill="none" />
<path d="M104.90,525.15V527.65M103.81,525.77L105.99,527.02M103.81,527.02L105.99,525.77" stroke="#333" stroke-width="0.8" fill="none"/>
<path d="M57.10,538.00 V535.80 H149.40 V538.00" stroke="#2a2a2a" stroke-width="1.2" fill="none" />
<path d="M73.80,531.85V534.35M72.71,532.47L74.89,533.72M72.71,533.72L74.89,532.47" stroke="#333" stroke-width="0.8" fill="none"/>
<line x1="57.50" y1="602.50" x2="57.50" y2="607.50" stroke="#bfbfc2" stroke-width="1.0"/>
<line x1="53.50" y1="602.50" x2="61.50" y2="602.50" stroke="#bfbfc2" stroke-width="1.0"/>
<line x1="53.50" y1="607.50" x2="61.50" y2="607.50" stroke="#bfbfc2" stroke-width="1.0"/>
<circle cx="57.50" cy="602.50" r="2.0" fill="#bfbfc2"/>
<circle cx="57.50" cy="607.00" r="2.0" fill="#bfbfc2"/>
<line x1="47.50" y1="605.00" x2="68.00" y2="605.00" stroke="#231f20" stroke-width="1.4"/>
<line x1="88.75" y1="589.50" x2="88.75" y2="605.50" stroke="#a80f36" stroke-width="1.0"/>
<line x1="83.55" y1="589.50" x2="93.95" y2="589.50" stroke="#a80f36" stroke-width="1.0"/>
<line x1="83.55" y1="605.50" x2="93.95" y2="605.50" stroke="#a80f36" stroke-width="1.0"/>
<circle cx="83.75" cy="590.00" r="2.0" fill="#a80f36"/>
<circle cx="93.75" cy="590.00" r="2.0" fill="#a80f36"/>
<circle cx="88.75" cy="594.50" r="2.0" fill="#a80f36"/>
<circle cx="86.25" cy="605.00" r="2.0" fill="#a80f36"/>
<circle cx="91.75" cy="605.00" r="2.0" fill="#a80f36"/>
<line x1="78.25" y1="597.00" x2="99.25" y2="597.00" stroke="#231f20" stroke-width="1.4"/>
<line x1="120.00" y1="589.50" x2="120.00" y2="603.00" stroke="#213f82" stroke-width="1.0"/>
<line x1="114.50" y1="589.50" x2="125.50" y2="589.50" stroke="#213f82" stroke-width="1.0"/>
<line x1="114.50" y1="603.00" x2="125.50" y2="603.00" stroke="#213f82" stroke-width="1.0"/>
<circle cx="116.25" cy="591.25" r="2.0" fill="#213f82"/>
<circle cx="125.00" cy="591.25" r="2.0" fill="#213f82"/>
<circle cx="120.00" cy="595.50" r="2.0" fill="#213f82"/>
<circle cx="119.50" cy="606.25" r="2.0" fill="#213f82"/>
<line x1="109.50" y1="596.25" x2="130.00" y2="596.25" stroke="#231f20" stroke-width="1.4"/>
<line x1="150.50" y1="557.00" x2="150.50" y2="587.50" stroke="#62ad40" stroke-width="1.0"/>
<line x1="145.50" y1="557.00" x2="155.50" y2="557.00" stroke="#62ad40" stroke-width="1.0"/>
<line x1="145.50" y1="587.50" x2="155.50" y2="587.50" stroke="#62ad40" stroke-width="1.0"/>
<circle cx="150.50" cy="555.00" r="2.0" fill="#62ad40"/>
<circle cx="150.50" cy="577.50" r="2.0" fill="#62ad40"/>
<circle cx="150.50" cy="583.75" r="2.0" fill="#62ad40"/>
<line x1="140.50" y1="572.50" x2="161.25" y2="572.50" stroke="#231f20" stroke-width="1.4"/>
<text x="0" y="0" font-size="11.2" fill="#231f20" stroke="#231f20" stroke-width="0.35" transform="translate(182.50,498.60) scale(0.9520,1)">D</text>
<text x="0" y="0" font-size="8.4" fill="#231f20" stroke="#231f20" stroke-width="0.1" transform="translate(202.40,577.60) rotate(-90) scale(0.9377,1)">Vehicle</text>
<text x="0" y="0" font-size="8.4" fill="#231f20" stroke="#231f20" stroke-width="0.1" transform="translate(220.90,577.60) rotate(-90) scale(0.9189,1)">ST 0.5mg/kg Trametinib</text>
<text x="0" y="0" font-size="8.4" fill="#231f20" stroke="#231f20" stroke-width="0.1" transform="translate(237.50,577.60) rotate(-90) scale(0.9189,1)">ST 0.5mg/kg Trametinib</text>
<text x="0" y="0" font-size="8.4" fill="#231f20" stroke="#231f20" stroke-width="0.1" transform="translate(255.90,577.60) rotate(-90) scale(0.9629,1)">AZ20 50mg/kg</text>
<text x="0" y="0" font-size="8.4" fill="#231f20" stroke="#231f20" stroke-width="0.1" transform="translate(272.90,577.60) rotate(-90) scale(0.9629,1)">AZ20 50mg/kg</text>
<text x="0" y="0" font-size="8.4" fill="#231f20" stroke="#231f20" stroke-width="0.1" transform="translate(288.20,577.60) rotate(-90) scale(0.9170,1)">LT 0.5mg/kg Trametinib</text>
<text x="0" y="0" font-size="8.4" fill="#231f20" stroke="#231f20" stroke-width="0.1" transform="translate(304.10,577.60) rotate(-90) scale(0.9170,1)">LT 0.5mg/kg Trametinib</text>
<text x="0" y="0" font-size="8.4" fill="#231f20" stroke="#231f20" stroke-width="0.1" transform="translate(320.90,577.60) rotate(-90) scale(0.9500,1)">Combination</text>
<text x="0" y="0" font-size="8.4" fill="#231f20" stroke="#231f20" stroke-width="0.1" transform="translate(336.90,577.60) rotate(-90) scale(0.9500,1)">Combination</text>
<text x="0" y="0" font-size="8.4" fill="#231f20" stroke="#231f20" stroke-width="0.1" transform="translate(353.80,577.60) rotate(-90) scale(0.9500,1)">Combination</text>
<rect x="183.25" y="582.25" width="185.5" height="28.9" fill="#92bde8" stroke="#1e1e1e" stroke-width="1.3"/>
<rect x="183.25" y="620.75" width="185.5" height="27.8" fill="#92bde8" stroke="#1e1e1e" stroke-width="1.3"/>
<rect x="195.35" y="592.45" width="12.30" height="2.60" rx="1.30" ry="1.30" fill="#352c22" fill-opacity="0.95" filter="url(#bl)"/>
<rect x="193.60" y="597.30" width="15.00" height="5.20" rx="2.60" ry="2.60" fill="#352c22" fill-opacity="1.0" filter="url(#bl)"/>
<rect x="245.40" y="592.10" width="11.80" height="2.50" rx="1.25" ry="1.25" fill="#352c22" fill-opacity="1.0" filter="url(#bl)"/>
<rect x="245.50" y="598.05" width="11.60" height="2.30" rx="1.15" ry="1.15" fill="#352c22" fill-opacity="0.9" filter="url(#bl)"/>
<rect x="262.20" y="591.50" width="11.40" height="2.60" rx="1.30" ry="1.30" fill="#352c22" fill-opacity="1.0" filter="url(#bl)"/>
<rect x="261.90" y="597.40" width="12.00" height="3.20" rx="1.60" ry="1.60" fill="#352c22" fill-opacity="1.0" filter="url(#bl)"/>
<rect x="278.75" y="591.10" width="11.70" height="2.60" rx="1.30" ry="1.30" fill="#352c22" fill-opacity="1.0" filter="url(#bl)"/>
<rect x="277.80" y="596.50" width="13.60" height="4.80" rx="2.40" ry="2.40" fill="#352c22" fill-opacity="1.0" filter="url(#bl)"/>
<rect x="295.85" y="590.80" width="10.30" height="1.60" rx="0.80" ry="0.80" fill="#352c22" fill-opacity="0.4" filter="url(#bl)"/>
<rect x="294.50" y="596.50" width="12.80" height="4.40" rx="2.20" ry="2.20" fill="#352c22" fill-opacity="1.0" filter="url(#bl)"/>
<rect x="194.00" y="631.80" width="12.80" height="2.40" rx="1.20" ry="1.20" fill="#352c22" fill-opacity="0.8" filter="url(#bl)"/>
<rect x="193.00" y="637.30" width="14.80" height="4.80" rx="2.40" ry="2.40" fill="#352c22" fill-opacity="1.0" filter="url(#bl)"/>
<rect x="211.10" y="631.80" width="12.80" height="2.40" rx="1.20" ry="1.20" fill="#352c22" fill-opacity="0.85" filter="url(#bl)"/>
<rect x="210.10" y="637.30" width="14.80" height="4.80" rx="2.40" ry="2.40" fill="#352c22" fill-opacity="1.0" filter="url(#bl)"/>
<rect x="228.00" y="631.50" width="12.80" height="3.00" rx="1.50" ry="1.50" fill="#352c22" fill-opacity="0.95" filter="url(#bl)"/>
<rect x="227.00" y="637.10" width="14.80" height="5.20" rx="2.60" ry="2.60" fill="#352c22" fill-opacity="1.0" filter="url(#bl)"/>
<rect x="244.20" y="631.70" width="12.80" height="2.60" rx="1.30" ry="1.30" fill="#352c22" fill-opacity="0.9" filter="url(#bl)"/>
<rect x="243.20" y="637.20" width="14.80" height="5.00" rx="2.50" ry="2.50" fill="#352c22" fill-opacity="1.0" filter="url(#bl)"/>
<rect x="261.20" y="631.50" width="12.80" height="3.00" rx="1.50" ry="1.50" fill="#352c22" fill-opacity="0.95" filter="url(#bl)"/>
<rect x="260.20" y="637.20" width="14.80" height="5.00" rx="2.50" ry="2.50" fill="#352c22" fill-opacity="1.0" filter="url(#bl)"/>
<rect x="278.30" y="631.20" width="12.80" height="3.60" rx="1.80" ry="1.80" fill="#352c22" fill-opacity="1" filter="url(#bl)"/>
<rect x="277.30" y="636.80" width="14.80" height="5.80" rx="2.90" ry="2.90" fill="#352c22" fill-opacity="1.0" filter="url(#bl)"/>
<rect x="294.60" y="631.40" width="12.80" height="3.20" rx="1.60" ry="1.60" fill="#352c22" fill-opacity="1" filter="url(#bl)"/>
<rect x="293.60" y="637.10" width="14.80" height="5.20" rx="2.60" ry="2.60" fill="#352c22" fill-opacity="1.0" filter="url(#bl)"/>
<rect x="311.50" y="631.40" width="12.80" height="3.20" rx="1.60" ry="1.60" fill="#352c22" fill-opacity="1" filter="url(#bl)"/>
<rect x="310.50" y="637.20" width="14.80" height="5.00" rx="2.50" ry="2.50" fill="#352c22" fill-opacity="1.0" filter="url(#bl)"/>
<rect x="328.70" y="631.55" width="12.80" height="2.90" rx="1.45" ry="1.45" fill="#352c22" fill-opacity="1" filter="url(#bl)"/>
<rect x="327.70" y="637.20" width="14.80" height="5.00" rx="2.50" ry="2.50" fill="#352c22" fill-opacity="1.0" filter="url(#bl)"/>
<rect x="346.30" y="630.30" width="12.80" height="4.40" rx="2.20" ry="2.20" fill="#352c22" fill-opacity="1" filter="url(#bl)"/>
<rect x="345.30" y="637.00" width="14.80" height="5.40" rx="2.70" ry="2.70" fill="#352c22" fill-opacity="1.0" filter="url(#bl)"/>
<text x="0" y="0" font-size="8.2" fill="#231f20" stroke="#231f20" stroke-width="0.28" transform="translate(372.10,597.90) scale(0.9086,1)">p-Erk</text>
<text x="0" y="0" font-size="8.3" fill="#231f20" stroke="#231f20" stroke-width="0.28" transform="translate(372.40,638.80) scale(0.8858,1)">Total Erk</text>
<g shape-rendering="crispEdges">
<rect x="0" y="0" width="520" height="1" fill="#000"/>
<rect x="0" y="1" width="520" height="1" fill="#ececec"/>
<rect x="1" y="0" width="1" height="696" fill="#8c8c8c"/>
<rect x="518" y="0" width="1" height="696" fill="#a8a8a8"/>
<rect x="0" y="694" width="520" height="1" fill="#909090"/>
<rect x="0" y="0" width="1" height="696" fill="#1e1e1e"/>
<rect x="519" y="0" width="1" height="696" fill="#000"/>
<rect x="0" y="695" width="520" height="1" fill="#000"/>
</g>
</svg>
</body></html>
